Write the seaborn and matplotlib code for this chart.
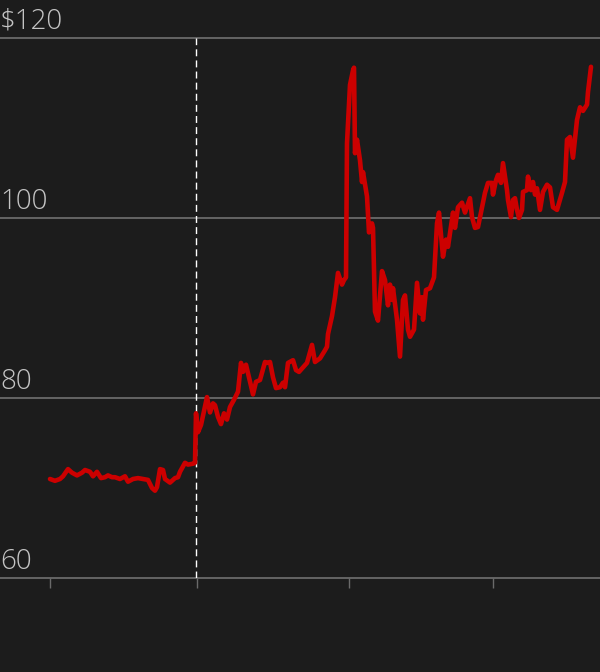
import matplotlib
matplotlib.use("Agg")
import matplotlib.pyplot as plt
import seaborn as sns
import pandas as pd

day = [0, 5, 10, 13, 18, 22, 27, 32, 35, 40, 43, 47, 51, 55, 58, 62, 65, 70, 75, 78,
       83, 88, 93, 98, 102, 105, 107, 110, 113, 115, 120, 125, 128, 130, 135, 138, 143, 145,
       146, 148, 151, 157, 160, 163, 165, 168, 171, 174, 177, 180, 184, 188, 191, 193, 196,
       199, 203, 206, 210, 215, 217, 220, 223, 226, 230, 233, 235, 238, 243, 246, 249, 253,
       257, 262, 265, 270, 275, 277, 278, 282, 285, 288, 292, 294, 296, 297, 300, 303, 304,
       305, 307, 310, 312, 313, 317, 319, 322, 323, 325, 328, 332, 335, 338, 340, 342, 343,
       347, 350, 353, 355, 358, 360, 364, 367, 370, 372, 373, 376, 380, 384, 387, 389, 393,
       396, 398, 403, 405, 408, 412, 415, 420, 422, 425, 428, 432, 435, 438, 442, 443, 446,
       448, 451, 453, 455, 457, 458, 461, 463, 465, 467, 469, 472, 473, 477, 478, 481, 483,
       485, 487, 490, 493, 497, 500, 503, 507, 512, 515, 517, 520, 523, 527, 530, 533, 537,
       538, 541]
price = [71.0, 70.8, 71.0, 71.3, 72.1, 71.7, 71.4, 71.7, 72.0, 71.8, 71.3, 71.8, 71.1, 71.2,
         71.4, 71.2, 71.2, 71.0, 71.3, 70.7, 71.0, 71.1, 71.0, 70.9, 70.0, 69.7, 70.1, 72.1,
         72.0, 71.0, 70.6, 71.1, 71.2, 71.8, 72.8, 72.6, 72.7, 72.8,
         78.3, 76.2, 77.0, 80.1, 78.4, 79.4, 79.2, 77.9, 77.1, 78.3, 77.6, 79.0, 79.8, 80.7,
         83.9, 82.9, 83.7, 82.3, 80.4, 81.8, 82.0, 84.0, 83.9, 84.0, 82.3, 81.1, 81.2, 81.7,
         81.2, 83.9, 84.2, 83.1, 82.9, 83.4, 83.9, 85.9, 84.0, 84.4, 85.3, 85.7, 87.1, 89.1,
         91.2, 93.9, 92.6, 93.1, 93.4, 108.3, 114.8, 116.4, 116.7, 107.2, 108.7, 106.4, 104.0,
         105.1, 102.4, 98.4, 99.4, 98.9, 89.6, 88.6, 94.1, 93.1, 90.3, 92.6, 90.9, 92.2, 88.7,
         84.6, 90.9, 91.4, 87.6, 86.8, 87.6, 92.8, 89.4, 91.2, 88.7, 92.0, 92.2, 93.4, 99.4,
         100.6, 95.7, 97.6, 96.8, 100.6, 98.9, 101.2, 101.7, 100.6, 102.2, 100.1, 98.9, 99.0,
         101.2, 102.8, 103.9, 103.9, 102.6, 104.2, 104.8, 103.9, 106.1, 104.6, 103.1, 102.0,
         100.1, 102.0, 102.2, 100.9, 100.0, 100.9, 102.9, 103.1, 104.6, 103.1, 104.0, 102.6,
         103.3, 100.9, 102.9, 103.7, 103.4, 101.2, 100.9, 102.8, 104.0, 108.7, 109.0, 106.7,
         110.9, 112.3, 111.9, 112.6, 114.0, 116.8]

y_ticks = [60, 80, 100, 120]
y_labels = ["60", "80", "100", "$120"]
x_ticks = [0, 147, 299, 443]
marker_day = 146

BG = "#1c1c1c"
sns.set_theme(style="dark")
plt.rcParams["font.family"] = ["Open Sans", "DejaVu Sans"]

fig = plt.figure(figsize=(6, 6.72), dpi=100, facecolor=BG)
ax = fig.add_axes([0, (672 - 578) / 672, 1, 540 / 672])
ax.set_facecolor(BG)

df = pd.DataFrame({"day": day, "price": price})
sns.lineplot(data=df, x="day", y="price", ax=ax, color="#cc0000", linewidth=3.3, zorder=3)

ax.set_xlim(-50, 550)
ax.set_ylim(60, 120)

for v in y_ticks:
    ax.axhline(v, color="#6a6a6a", linewidth=1.3, zorder=1, clip_on=False)
for v, lab in zip(y_ticks, y_labels):
    ax.text(0.0, v + 0.25, lab, transform=ax.get_yaxis_transform(), ha="left", va="bottom",
            color="#c4c4c4", fontsize=20, fontweight="light")

ax.axvline(marker_day, ymin=0, ymax=1, color="white", linewidth=1.0,
           linestyle=(0, (5, 3)), zorder=2)

ax.set_yticks([])
ax.set_xticks(x_ticks)
ax.set_xticklabels([])
ax.tick_params(axis="x", length=7.5, width=1, color="#6a6a6a", direction="out", bottom=True)
ax.set_xlabel("")
ax.set_ylabel("")
ax.grid(False)
for s in ax.spines.values():
    s.set_visible(False)

fig.savefig("out.png", dpi=100, facecolor=BG)
